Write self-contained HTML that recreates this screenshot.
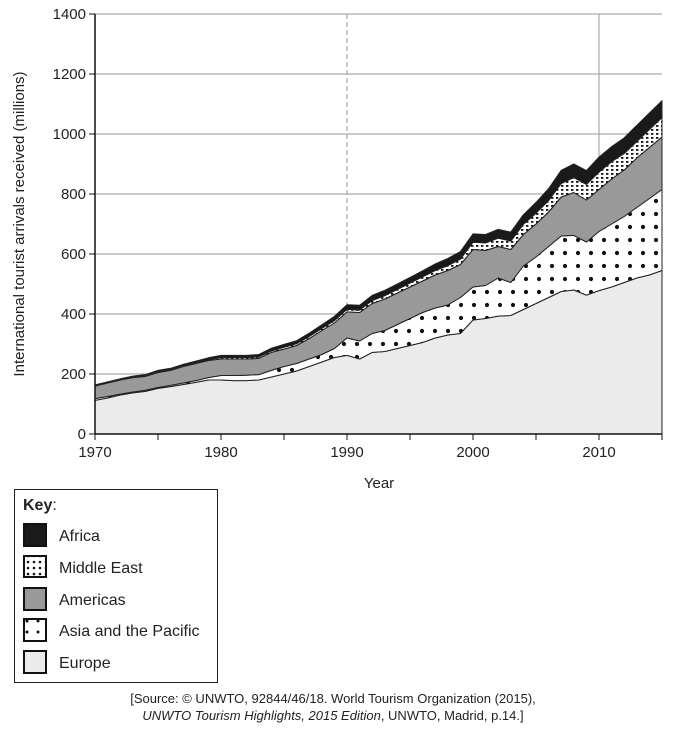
<!DOCTYPE html>
<html><head><meta charset="utf-8"><style>
body{margin:0;background:#fff;font-family:"Liberation Sans",sans-serif}
svg text{font-family:"Liberation Sans",sans-serif;fill:#222}
</style></head><body>
<svg id="chart" width="682" height="735" viewBox="0 0 682 735" xmlns="http://www.w3.org/2000/svg">
<defs>
<pattern id="pAsia" patternUnits="userSpaceOnUse" width="13" height="13"><rect width="13" height="13" fill="#fff"/><circle cx="6" cy="6" r="2.1" fill="#111"/></pattern>
<pattern id="pME" patternUnits="userSpaceOnUse" width="5" height="4"><rect width="5" height="4" fill="#fff"/><rect x="1" y="1" width="2.4" height="1.8" fill="#111"/></pattern>
<pattern id="pAsiaL" patternUnits="userSpaceOnUse" width="11" height="11" x="3" y="3"><rect width="11" height="11" fill="#fff"/><circle cx="2" cy="2" r="1.5" fill="#111"/></pattern>
<pattern id="pMEL" patternUnits="userSpaceOnUse" width="6" height="6" x="2" y="2"><rect width="6" height="6" fill="#fff"/><circle cx="2" cy="2" r="1.3" fill="#111"/></pattern>
</defs>
<g id="grid"></g>
<g id="areas"></g>
<g id="axes"></g>
<g>
<rect x="14.5" y="489.5" width="203" height="193" fill="#fff" stroke="#222"/>
<text x="23" y="510" font-size="16"><tspan font-weight="bold">Key</tspan>:</text>
<rect x="24" y="524" width="22" height="22" fill="#1a1a1a" stroke="#111" stroke-width="2"/>
<text x="59" y="541" font-size="16">Africa</text>
<rect x="24" y="556" width="22" height="21" fill="url(#pMEL)" stroke="#111" stroke-width="2"/>
<text x="59" y="573" font-size="16">Middle East</text>
<rect x="24" y="588" width="22" height="22" fill="#999" stroke="#111" stroke-width="2"/>
<text x="59" y="605" font-size="16">Americas</text>
<rect x="24" y="619" width="22" height="22" fill="url(#pAsiaL)" stroke="#111" stroke-width="2"/>
<text x="59" y="636" font-size="16">Asia and the Pacific</text>
<rect x="24" y="651" width="22" height="22" fill="#ebebeb" stroke="#111" stroke-width="2"/>
<text x="59" y="668" font-size="16">Europe</text>
</g>
<text x="333" y="703" font-size="13" text-anchor="middle">[Source: © UNWTO, 92844/46/18. World Tourism Organization (2015),</text>
<text x="333" y="720" font-size="13" text-anchor="middle"><tspan font-style="italic">UNWTO Tourism Highlights, 2015 Edition</tspan>, UNWTO, Madrid, p.14.]</text>
</svg>
<script>
const years=[];for(let y=1970;y<=2015;y++)years.push(y);
const europe=[112,120,130,137,142,152,158,165,172,180,180,178,178,180,190,200,210,225,240,255,262,250,272,275,285,295,305,320,330,335,380,385,393,395,415,435,455,475,480,463,478,490,505,520,530,545];
const asiaPacific=[6,5,3,3,4,3,4,5,6,8,15,17,18,18,22,25,25,25,25,30,58,60,63,70,80,90,100,100,100,120,110,110,127,110,145,155,170,185,182,177,197,210,220,235,255,270];
const americas=[42,45,47,48,46,50,50,55,57,57,55,55,54,54,60,58,60,68,80,85,87,95,100,105,105,105,105,110,115,110,125,117,105,110,105,110,115,130,143,140,140,150,155,165,170,175];
const middleEast=[2,2,2,2,3,3,3,3,3,3,5,5,5,5,5,6,6,7,7,8,9,8,10,11,12,13,14,15,16,18,24,25,28,28,34,36,38,45,50,52,58,58,55,55,60,65];
const africa=[2,2,2,3,3,4,4,4,5,6,7,7,7,8,9,10,10,11,12,14,15,16,17,18,18,19,20,22,24,25,28,28,29,30,32,36,40,44,45,46,50,50,52,54,55,56];
const yTicks=[0,200,400,600,800,1000,1200,1400];
const xTicks=[1970,1980,1990,2000,2010];
const NS="http://www.w3.org/2000/svg";
const X0=95,X1=662,Y0=434,Y1=14;
const xs=y=>X0+(y-1970)*(X1-X0)/45;
const ys=v=>Y0-v*(Y0-Y1)/1400;
function mk(tag,attrs,parent){const e=document.createElementNS(NS,tag);for(const k in attrs)e.setAttribute(k,attrs[k]);parent.appendChild(e);return e;}
const grid=document.getElementById('grid'),areas=document.getElementById('areas'),axes=document.getElementById('axes');
yTicks.forEach(v=>{if(v===0)return;const l=mk('line',{x1:X0,x2:X1,y1:ys(v),y2:ys(v),stroke:'#999','stroke-width':1},grid);

});
const g1=mk('line',{x1:xs(1990),x2:xs(1990),y1:Y1,y2:Y0,stroke:'#999','stroke-dasharray':'5,3'},grid);


const g2=mk('line',{x1:xs(2010),x2:xs(2010),y1:Y1,y2:Y0,stroke:'#999'},grid);


const series=[europe,asiaPacific,americas,middleEast,africa];
const fills=['#ebebeb','url(#pAsia)','#999','url(#pME)','#1a1a1a'];
const names=['area-europe','area-asia-pacific','area-americas','area-middle-east','area-africa'];
let base=years.map(()=>0);
series.forEach((s,i)=>{
 const top=base.map((b,j)=>b+s[j]);
 let d='M'+years.map((y,j)=>xs(y).toFixed(1)+','+ys(top[j]).toFixed(1)).join(' L');
 for(let j=years.length-1;j>=0;j--)d+=' L'+xs(years[j]).toFixed(1)+','+ys(base[j]).toFixed(1);
 const p=mk('path',{d:d+'Z',fill:fills[i],stroke:'#222','stroke-width':1,'stroke-linejoin':'round'},areas);
 
 
 base=top;
});
mk('line',{x1:X0,x2:X0,y1:Y1,y2:Y0,stroke:'#111','stroke-width':1.5},axes);
mk('line',{x1:X0,x2:X1,y1:Y0,y2:Y0,stroke:'#111','stroke-width':1.5},axes);
yTicks.forEach(v=>{mk('line',{x1:X0-6,x2:X0,y1:ys(v),y2:ys(v),stroke:'#111'},axes);
 const t=mk('text',{x:X0-9,y:ys(v)+5,'font-size':15,'text-anchor':'end'},axes);t.textContent=v;
 
 });
for(let y=1970;y<=2015;y+=5)mk('line',{x1:xs(y),x2:xs(y),y1:Y0,y2:Y0+6,stroke:'#111'},axes);
xTicks.forEach(y=>{const t=mk('text',{x:xs(y),y:457,'font-size':15,'text-anchor':'middle'},axes);t.textContent=y;
 
 });
const xl=mk('text',{x:379,y:488,'font-size':15,'text-anchor':'middle'},axes);xl.textContent='Year';


const yl=mk('text',{x:0,y:0,'font-size':15,'text-anchor':'middle',transform:'translate(24,224) rotate(-90)'},axes);yl.textContent='International tourist arrivals received (millions)';


</script>
</body></html>
